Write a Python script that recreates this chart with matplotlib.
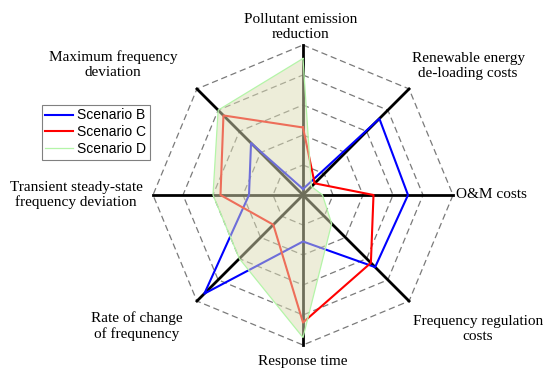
import numpy as np
import matplotlib
matplotlib.use("Agg")
import matplotlib.pyplot as plt

# axes clockwise from the top
categories = ["Pollutant emission\nreduction",
              "Renewable energy\nde-loading costs",
              "O&M costs",
              "Frequency regulation\ncosts",
              "Response time",
              "Rate of change\nof frequnency",
              "Transient steady-state\nfrequency deviation",
              "Maximum frequency\ndeviation"]
scenario_b = [0.04, 0.72, 0.70, 0.68, 0.31, 0.93, 0.36, 0.49]
scenario_c = [0.45, 0.11, 0.47, 0.64, 0.85, 0.28, 0.55, 0.75]
scenario_d = [0.91, 0.08, 0.13, 0.27, 0.95, 0.60, 0.60, 0.80]
levels = [0.2, 0.4, 0.6, 0.8, 1.0]

W, H = 550, 380
CX, CY, R = 303, 195, 150          # centre and radius in pixels


def to_xy(vals):
    n = len(vals)
    ang = np.pi / 2 - 2 * np.pi * np.arange(n) / n
    v = np.asarray(vals, dtype=float)
    x, y = v * np.cos(ang), v * np.sin(ang)
    return np.append(x, x[0]), np.append(y, y[0])


fig = plt.figure(figsize=(W / 100, H / 100), dpi=100)
ax = fig.add_axes([0, 0, 1, 1])
ax.set_xlim(-CX / R, (W - CX) / R)
ax.set_ylim(-(H - CY) / R, CY / R)
ax.axis("off")

n = len(categories)
for lv in levels:
    gx, gy = to_xy([lv] * n)
    ax.plot(gx, gy, color="#7a7a7a", lw=0.9, ls=(0, (5, 3)), zorder=1)
ex, ey = to_xy([1.0] * n)
for i in range(n):
    ax.plot([0, ex[i]], [0, ey[i]], color="black", lw=2.0, zorder=2)

bx, by = to_xy(scenario_b)
ax.plot(bx, by, color="#0000ff", lw=1.5, zorder=3, label="Scenario B")
rx, ry = to_xy(scenario_c)
ax.plot(rx, ry, color="#ff0000", lw=1.5, zorder=3, label="Scenario C")
dx, dy = to_xy(scenario_d)
ax.fill(dx, dy, facecolor="#dcdcb4", alpha=0.5, edgecolor="none", zorder=4)
ax.plot(dx, dy, color="#b4f5a8", lw=0.9, zorder=4, label="Scenario D")

# label positions in pixels (centre of the text block)
label_px = [(301, 27, "center"), (468, 66, "center"), (456, 195, "left"),
            (478, 329, "center"), (303, 362, "center"), (137, 326, "center"),
            (76, 195, "center"), (113, 65, "center")]
for txt, (px, py, ha) in zip(categories, label_px):
    ax.text((px - CX) / R, (CY - py) / R, txt, ha=ha, va="center",
            family="Liberation Serif", fontsize=11, linespacing=1.2)

leg = ax.legend(loc="upper left", bbox_to_anchor=(42 / W, 1 - 105 / H),
                bbox_transform=fig.transFigure, borderaxespad=0,
                prop={"family": "Liberation Sans", "size": 10},
                fancybox=False, edgecolor="#808080", framealpha=1,
                handlelength=2.0, handletextpad=0.3, labelspacing=0.2,
                borderpad=0.25)
leg.get_frame().set_linewidth(0.8)

fig.savefig("out.png", dpi=100)
